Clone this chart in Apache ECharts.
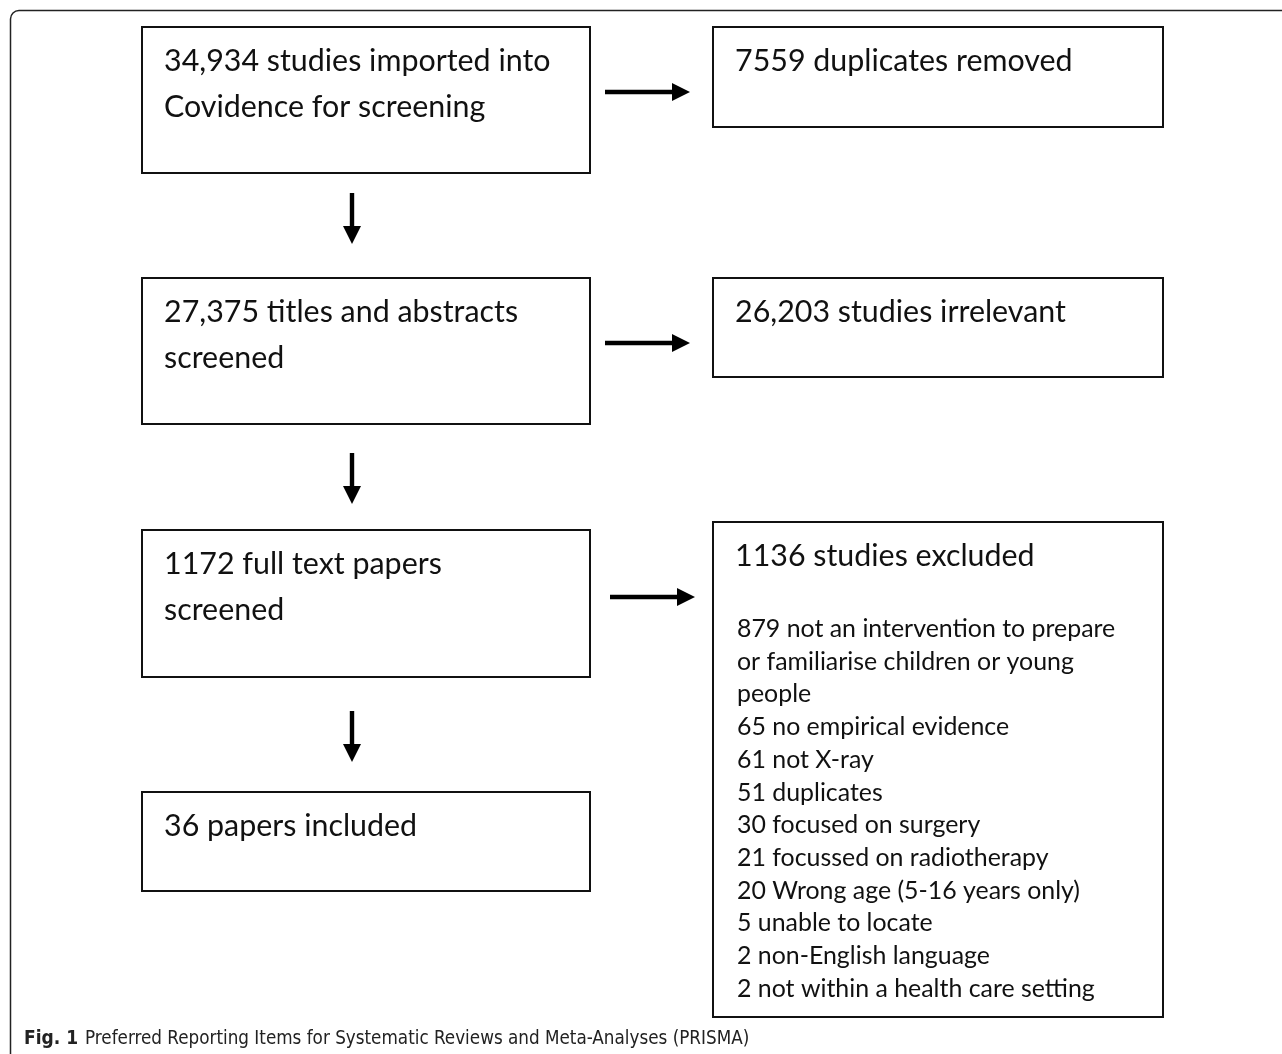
<!DOCTYPE html>
<html>
<head>
<meta charset="utf-8">
<script src="https://cdn.jsdelivr.net/npm/echarts@6/dist/echarts.min.js"></script>
<style>
html,body{margin:0;padding:0;background:#fff;}
#chart{width:1282px;height:1054px;}
</style>
</head>
<body>
<div id="chart"></div>
<script>
// ---- content (data) ----
const stageTexts = [
  '34,934 studies imported into\nCovidence for screening',
  '27,375 titles and abstracts\nscreened',
  '1172 full text papers\nscreened',
  '36 papers included'
];
const removalTexts = [
  '7559 duplicates removed',
  '26,203 studies irrelevant',
  '1136 studies excluded'
];
const exclusionCounts = [879, 65, 61, 51, 30, 21, 20, 5, 2, 2];
const exclusionReasons = [
  'not an intervention to prepare\nor familiarise children or young\npeople',
  'no empirical evidence',
  'not X-ray',
  'duplicates',
  'focused on surgery',
  'focussed on radiotherapy',
  'Wrong age (5-16 years only)',
  'unable to locate',
  'non-English language',
  'not within a health care setting'
];
const captionLabel = 'Fig. 1';
const captionText = 'Preferred Reporting Items for Systematic Reviews and Meta-Analyses (PRISMA)';

// ---- layout (diagram coordinates) ----
const W = 1282, H = 1054;
const stageBoxes = [[142,27,590,173],[142,278,590,424],[142,530,590,677],[142,792,590,891]];
const sideBoxes  = [[713,27,1163,127],[713,278,1163,377],[713,522,1163,1017]];
const downArrows = [[352,193,244],[352,453,504],[352,711,762]];
const rightArrows = [[605,690,92],[605,690,343],[610,695,597]];

const BOX_FONT = '30.4px Lato, Carlito, "Open Sans", sans-serif';
const LIST_FONT = '24.9px Lato, Carlito, "Open Sans", sans-serif';

const exclusionList = exclusionCounts.map((c, i) => c + ' ' + exclusionReasons[i]).join('\n');

const boxData = [];
stageBoxes.forEach((b, i) => boxData.push([b[0], b[1], b[2], b[3], 0, i]));
sideBoxes.forEach((b, i) => boxData.push([b[0], b[1], b[2], b[3], 1, i]));

function renderBox(params, api) {
  const p0 = api.coord([api.value(0), api.value(1)]);
  const p1 = api.coord([api.value(2), api.value(3)]);
  const kind = api.value(4), idx = api.value(5);
  const text = kind === 0 ? stageTexts[idx] : removalTexts[idx];
  const children = [{
    type: 'rect',
    shape: {x: p0[0], y: p0[1], width: p1[0] - p0[0], height: p1[1] - p0[1]},
    style: {fill: '#fff', stroke: '#111', lineWidth: 2}
  }, {
    type: 'text',
    style: {
      text: text, x: p0[0] + 22, y: p0[1] + 11,
      font: BOX_FONT, fill: '#111', lineHeight: 46,
      verticalAlign: 'top', align: 'left'
    }
  }];
  if (kind === 1 && idx === 2) {
    children.push({
      type: 'text',
      style: {
        text: exclusionList, x: p0[0] + 24, y: p0[1] + 107 - 16.35,
        font: LIST_FONT, fill: '#111', lineHeight: 32.7,
        verticalAlign: 'top', align: 'left'
      }
    });
  }
  return {type: 'group', children: children};
}

function renderDown(params, api) {
  const top = api.coord([api.value(0), api.value(1)]);
  const tip = api.coord([api.value(0), api.value(2)]);
  const x = top[0], hl = 18, hw = 9, sw = 2.2;
  return {
    type: 'polygon',
    shape: {points: [[x - sw, top[1]], [x + sw, top[1]], [x + sw, tip[1] - hl], [x + hw, tip[1] - hl],
                     [x, tip[1]], [x - hw, tip[1] - hl], [x - sw, tip[1] - hl]]},
    style: {fill: '#000'}
  };
}

function renderRight(params, api) {
  const s = api.coord([api.value(0), api.value(2)]);
  const t = api.coord([api.value(1), api.value(2)]);
  const y = s[1], hl = 18, hw = 9, sw = 2.2;
  return {
    type: 'polygon',
    shape: {points: [[s[0], y - sw], [t[0] - hl, y - sw], [t[0] - hl, y - hw], [t[0], y],
                     [t[0] - hl, y + hw], [t[0] - hl, y + sw], [s[0], y + sw]]},
    style: {fill: '#000'}
  };
}

const chart = echarts.init(document.getElementById('chart'), null, {renderer: 'canvas'});
chart.setOption({
  animation: false,
  backgroundColor: '#fff',
  grid: {left: 0, right: 0, top: 0, bottom: 0},
  xAxis: {type: 'value', min: 0, max: W, show: false},
  yAxis: {type: 'value', min: 0, max: H, inverse: true, show: false},
  graphic: [
    {
      type: 'polyline', silent: true,
      shape: {points: [[10.5, 1054], [10.5, 19]]},
      style: {stroke: '#222', lineWidth: 1.5, fill: null}
    },
    {
      type: 'polyline', silent: true,
      shape: {points: [[19, 10.5], [1282, 10.5]]},
      style: {stroke: '#222', lineWidth: 1.5, fill: null}
    },
    {
      type: 'arc', silent: true,
      shape: {cx: 19, cy: 19, r: 8.5, startAngle: Math.PI, endAngle: Math.PI * 1.5, clockwise: true},
      style: {stroke: '#222', lineWidth: 1.5, fill: null}
    },
    {
      type: 'text', x: 24, y: 1030,
      style: {text: captionLabel, font: 'bold 19px "Liberation Sans Narrow", "DejaVu Sans Condensed", sans-serif', fill: '#222'}
    },
    {
      type: 'text', x: 85, y: 1030,
      style: {text: captionText, font: '18.7px "Liberation Sans Narrow", "DejaVu Sans Condensed", sans-serif', fill: '#222'}
    }
  ],
  series: [
    {type: 'custom', coordinateSystem: 'cartesian2d', renderItem: renderBox, data: boxData, silent: true},
    {type: 'custom', coordinateSystem: 'cartesian2d', renderItem: renderDown, data: downArrows, silent: true},
    {type: 'custom', coordinateSystem: 'cartesian2d', renderItem: renderRight, data: rightArrows, silent: true}
  ]
});
</script>
</body>
</html>
